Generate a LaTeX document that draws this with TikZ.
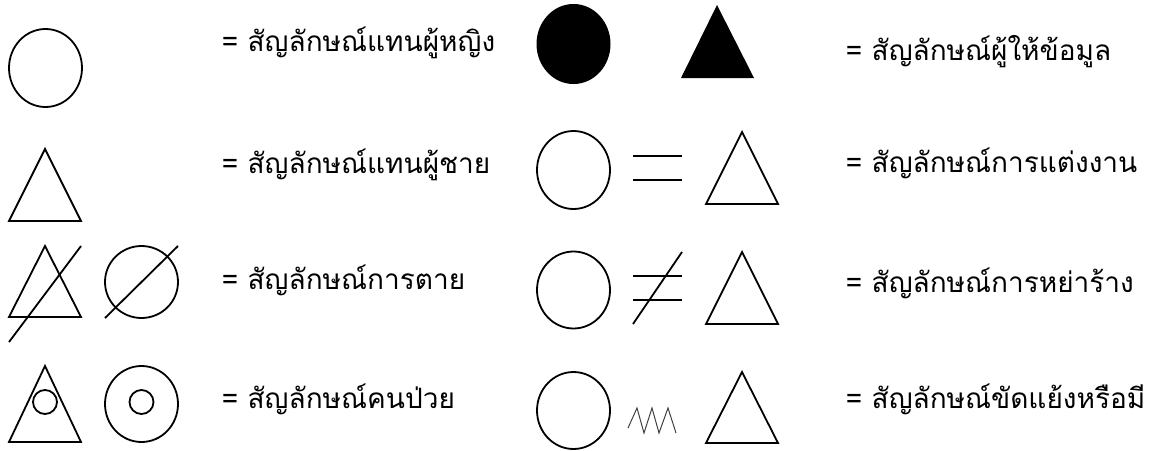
\documentclass[tikz,border=0pt]{standalone}
\usepackage{fontspec}
\newfontfamily\thaifont[Script=Thai]{Loma}
\usetikzlibrary{calc}

\begin{document}
\begin{tikzpicture}[x=1pt, y=-1pt, line width=1.8pt,
  legend/.style={anchor=base west, inner sep=0pt, font=\thaifont\fontsize{28}{31}\selectfont},
  zigzag/.style={line width=1pt, black!75}]
  \useasboundingbox (0,0) rectangle (1151,450);
  \def\rx{36.5}
  \def\ry{39}
  % left column: female, male, death, patient
  \draw (45.5,68) ellipse [x radius=\rx, y radius=\ry];
  \draw (9,221) -- (45,149) -- (81,221) -- cycle;
  \draw (9,317) -- (45,246) -- (81,317) -- cycle;
  \draw (9,342) -- (81,246);
  \draw (141.5,282) ellipse [x radius=\rx, y radius=36];
  \draw (105,318) -- (178,246);
  \draw (9,442) -- (45,366) -- (81,442) -- cycle;
  \draw (45,402) circle (12);
  \draw (141.5,404) ellipse [x radius=\rx, y radius=38];
  \draw (141.5,402) circle (12);
  \node[legend] (female)  at (221,51)  {= สัญลักษณ์แทนผู้หญิง};
  \node[legend] (male)    at (221,173) {= สัญลักษณ์แทนผู้ชาย};
  \node[legend] (death)   at (221,289) {= สัญลักษณ์การตาย};
  \node[legend] (patient) at (221,408) {= สัญลักษณ์คนป่วย};
  % right column: informant, marriage, divorce, conflict
  \fill (573.5,44) ellipse [x radius=37, y radius=40];
  \fill (681,78) -- (717,5) -- (754,78) -- cycle;
  \draw (573.5,170) ellipse [x radius=\rx, y radius=\ry];
  \draw (633,156) -- (682,156) (633,180) -- (682,180);
  \draw (706,204) -- (742,132) -- (778,204) -- cycle;
  \draw (573.5,290) ellipse [x radius=\rx, y radius=38.5];
  \draw (633,276) -- (682,276) (633,300) -- (682,300);
  \draw (633,324) -- (682,252);
  \draw (706,324) -- (742,252) -- (778,324) -- cycle;
  \draw (573.5,410.5) ellipse [x radius=\rx, y radius=38.5];
  \draw[zigzag] (628,428) -- (637,408) -- (644,433) -- (652,408) -- (659,433) -- (668,408) -- (676,433);
  \draw (706,443) -- (742,372) -- (778,443) -- cycle;
  \node[legend] (informant) at (845,60)  {= สัญลักษณ์ผู้ให้ข้อมูล};
  \node[legend] (marriage)  at (845,172) {= สัญลักษณ์การแต่งงาน};
  \node[legend] (divorce)   at (845,292) {= สัญลักษณ์การหย่าร้าง};
  \node[legend] (conflict)  at (845,408) {= สัญลักษณ์ขัดแย้งหรือมี};
\end{tikzpicture}
\end{document}
